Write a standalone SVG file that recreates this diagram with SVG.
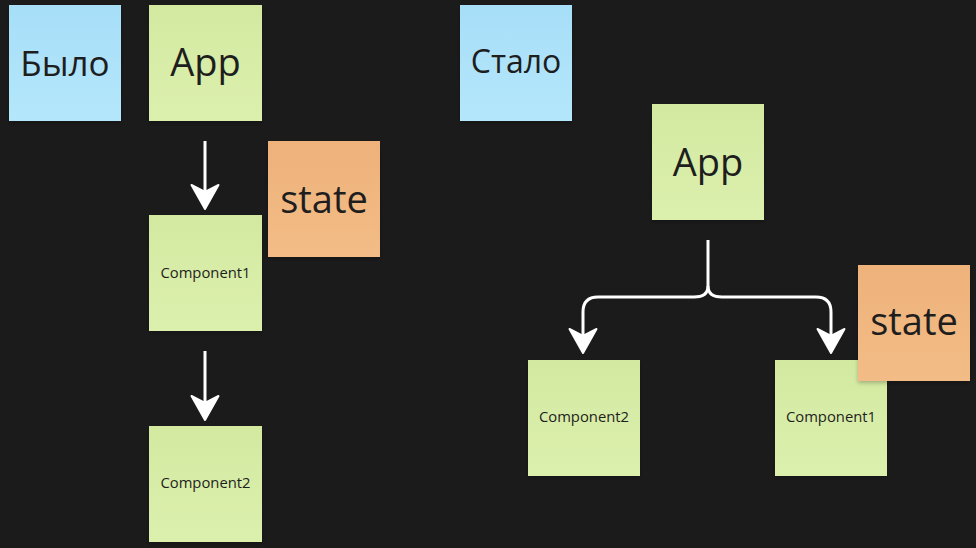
<svg xmlns="http://www.w3.org/2000/svg" width="976" height="548" viewBox="0 0 976 548">
<defs>
<linearGradient id="gGreen" x1="0" y1="0" x2="0" y2="1"><stop offset="0" stop-color="#d3e9a0"/><stop offset="1" stop-color="#dcf0ae"/></linearGradient>
<linearGradient id="gBlue" x1="0" y1="0" x2="0" y2="1"><stop offset="0" stop-color="#a7def8"/><stop offset="1" stop-color="#b4e7fb"/></linearGradient>
<linearGradient id="gOrange" x1="0" y1="0" x2="0" y2="1"><stop offset="0" stop-color="#eeb27a"/><stop offset="1" stop-color="#f3bc86"/></linearGradient>
<filter id="sh" x="-10%" y="-10%" width="130%" height="130%"><feDropShadow dx="0" dy="2" stdDeviation="2" flood-color="#000" flood-opacity="0.25"/></filter>
<marker id="ah" viewBox="0 0 28 30" markerWidth="28" markerHeight="30" refX="17" refY="15" orient="auto" markerUnits="userSpaceOnUse">
<path d="M2,1.5 L9,15 L2,28.5 L26,15 Z" fill="#ffffff" stroke="#ffffff" stroke-width="2" stroke-linejoin="round"/>
</marker>
</defs>
<style>
.note{filter:url(#sh)}
.g{fill:url(#gGreen)}
.b{fill:url(#gBlue)}
.o{fill:url(#gOrange)}
.t{font-family:"Open Sans","Noto Sans","DejaVu Sans",sans-serif;fill:#1e1e1e;text-anchor:middle}
.big{font-size:38px}
.bylo{font-size:35px}
.mid{font-size:32px}
.sm{font-size:14.8px}
.conn{fill:none;stroke:#ffffff;stroke-width:3;stroke-linecap:butt;marker-end:url(#ah)}
</style>
<rect width="976" height="548" fill="#1b1b1b"/>
<g id="connectors">
<path class="conn" d="M205,141 V200"/>
<path class="conn" d="M205,351 V411"/>
<path class="conn" d="M708,240 V286 Q708,297 694,297 H598 Q583,297 583,312 V344"/>
<path class="conn" d="M708,286 Q708,297 722,297 H816 Q831,297 831,312 V344"/>
</g>
<g id="bylo"><rect class="note b" x="9" y="5" width="112" height="116"/><text class="t bylo" x="65" y="76">Было</text></g>
<g id="app-left"><rect class="note g" x="149" y="5" width="113" height="116"/><text class="t big" x="205.5" y="76">App</text></g>
<g id="component1-left"><rect class="note g" x="149" y="215" width="113" height="116"/><text class="t sm" x="205.5" y="278">Component1</text></g>
<g id="state-left"><rect class="note o" x="268" y="141" width="112" height="116"/><text class="t big" x="324" y="213">state</text></g>
<g id="component2-left"><rect class="note g" x="149" y="426" width="113" height="116"/><text class="t sm" x="205.5" y="488">Component2</text></g>
<g id="stalo"><rect class="note b" x="460" y="5" width="112" height="116"/><text class="t mid" x="516" y="73">Стало</text></g>
<g id="app-right"><rect class="note g" x="652" y="104" width="112" height="116"/><text class="t big" x="708" y="176">App</text></g>
<g id="component2-right"><rect class="note g" x="528" y="360" width="112" height="116"/><text class="t sm" x="584" y="422">Component2</text></g>
<g id="component1-right"><rect class="note g" x="775" y="360" width="112" height="116"/><text class="t sm" x="831" y="422">Component1</text></g>
<g id="state-right"><rect class="note o" x="858" y="265" width="112" height="116"/><text class="t big" x="914" y="335">state</text></g>
</svg>
